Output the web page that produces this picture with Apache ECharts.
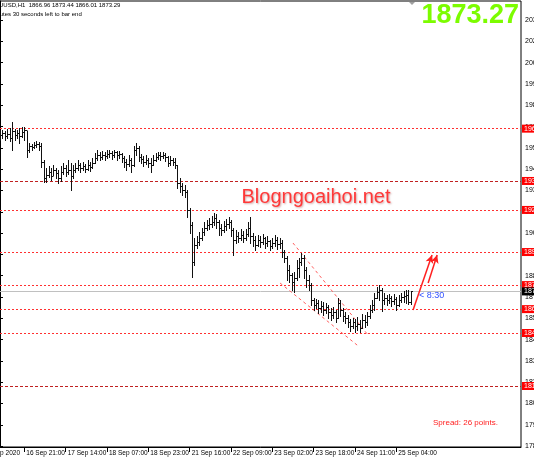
<!DOCTYPE html>
<html><head><meta charset="utf-8">
<script src="https://cdn.jsdelivr.net/npm/echarts@6/dist/echarts.min.js"></script>
<style>html,body{margin:0;padding:0;background:#fff}#c{width:534px;height:462px}</style>
</head><body><div id="c"></div>
<script>
// ---- data ----
const tickIdx = [10,27,44,61,78,95,112,129,146,163];
const tickLabels = ['16 Sep 21:00','17 Sep 14:00','18 Sep 07:00','18 Sep 23:00','21 Sep 16:00','22 Sep 09:00','23 Sep 02:00','23 Sep 18:00','24 Sep 11:00','25 Sep 04:00'];
const priceTicks = [1782.5,1795,1807.5,1820,1832.5,1845,1857.5,1870,1882.5,1895,1907.5,1920,1932.5,1945,1957.5,1970,1982.5,1995,2007.5,2020,2032.5];
const closes = [1965.1,1966.2,1964.5,1965.7,1963.3,1967.4,1965.1,1966.2,1964.5,1966.8,
1968.0,1956.3,1958.6,1958.0,1959.2,1959.8,1958.6,1949.2,1939.8,1941.6,
1943.4,1941.0,1944.5,1942.8,1939.8,1943.4,1945.7,1943.4,1944.5,1941.0,
1944.5,1945.7,1947.5,1945.7,1946.9,1945.1,1947.5,1946.3,1948.6,1951.6,
1953.3,1952.2,1953.3,1952.7,1953.9,1954.5,1953.3,1955.1,1953.3,1953.9,
1951.6,1949.2,1948.0,1950.4,1947.5,1956.3,1957.4,1952.2,1951.0,1949.2,
1950.4,1948.6,1947.5,1950.4,1952.2,1953.3,1952.7,1953.3,1952.2,1948.6,
1950.4,1949.2,1947.5,1936.9,1935.1,1932.8,1931.6,1921.1,1912.2,1890.5,
1900.5,1902.3,1904.6,1908.1,1910.5,1912.2,1912.8,1914.0,1916.4,1914.0,
1910.5,1909.3,1911.7,1912.8,1914.0,1909.3,1903.4,1905.8,1904.6,1906.4,
1904.6,1906.9,1910.5,1905.8,1903.4,1900.5,1903.4,1902.3,1904.6,1901.7,
1902.9,1899.9,1901.7,1903.4,1901.1,1901.7,1896.4,1892.9,1885.8,1882.9,
1878.8,1881.1,1887.0,1890.5,1892.9,1885.8,1880.0,1877.0,1868.2,1865.3,
1866.5,1863.5,1864.7,1862.4,1864.1,1861.2,1859.4,1861.2,1857.6,1866.5,
1862.4,1858.8,1857.6,1855.3,1853.0,1855.3,1853.0,1854.1,1851.8,1856.5,
1855.3,1858.8,1862.4,1865.3,1869.4,1872.9,1874.1,1868.2,1869.4,1868.2,
1869.4,1867.6,1868.8,1865.3,1868.2,1870.0,1870.6,1871.2,1866.96,1873.29];
const opens = [1966.8,1965.1,1966.2,1964.5,1965.7,1963.3,1967.4,1965.1,1966.2,1964.5,
1966.8,1968.0,1956.3,1958.6,1958.0,1959.2,1959.8,1958.6,1949.2,1939.8,
1941.6,1943.4,1941.0,1944.5,1942.8,1939.8,1943.4,1945.7,1943.4,1944.5,
1941.0,1944.5,1945.7,1947.5,1945.7,1946.9,1945.1,1947.5,1946.3,1948.6,
1951.6,1953.3,1952.2,1953.3,1952.7,1953.9,1954.5,1953.3,1955.1,1953.3,
1953.9,1951.6,1949.2,1948.0,1950.4,1947.5,1956.3,1957.4,1952.2,1951.0,
1949.2,1950.4,1948.6,1947.5,1950.4,1952.2,1953.3,1952.7,1953.3,1952.2,
1948.6,1950.4,1949.2,1947.5,1936.9,1935.1,1932.8,1931.6,1921.1,1912.2,
1890.5,1900.5,1902.3,1904.6,1908.1,1910.5,1912.2,1912.8,1914.0,1916.4,
1914.0,1910.5,1909.3,1911.7,1912.8,1914.0,1909.3,1903.4,1905.8,1904.6,
1906.4,1904.6,1906.9,1910.5,1905.8,1903.4,1900.5,1903.4,1902.3,1904.6,
1901.7,1902.9,1899.9,1901.7,1903.4,1901.1,1901.7,1896.4,1892.9,1885.8,
1882.9,1878.8,1881.1,1887.0,1890.5,1892.9,1885.8,1880.0,1877.0,1868.2,
1865.3,1866.5,1863.5,1864.7,1862.4,1864.1,1861.2,1859.4,1861.2,1857.6,
1866.5,1862.4,1858.8,1857.6,1855.3,1853.0,1855.3,1853.0,1854.1,1851.8,
1856.5,1855.3,1858.8,1862.4,1865.3,1869.4,1872.9,1874.1,1868.2,1869.4,
1868.2,1869.4,1867.6,1868.8,1865.3,1868.2,1870.0,1870.6,1871.2,1866.96];
const highs = [1968.0,1968.0,1967.4,1968.6,1969.2,1972.7,1968.6,1968.0,1969.2,1969.8,
1969.8,1967.4,1960.4,1959.8,1960.9,1961.5,1960.9,1960.4,1950.4,1945.7,
1946.9,1945.7,1947.5,1945.7,1944.5,1946.9,1948.6,1947.5,1950.4,1948.6,
1947.5,1948.6,1950.4,1948.6,1949.2,1948.0,1950.4,1949.2,1951.6,1954.5,
1956.3,1955.1,1955.7,1955.1,1956.3,1956.3,1955.7,1956.3,1955.7,1955.7,
1954.5,1952.7,1951.0,1953.3,1951.6,1958.6,1960.4,1958.6,1953.9,1952.7,
1953.3,1951.6,1951.6,1953.3,1954.5,1955.1,1955.1,1955.1,1954.5,1952.7,
1952.7,1951.6,1951.6,1947.5,1939.8,1936.9,1935.7,1932.8,1922.2,1914.0,
1904.6,1905.8,1908.1,1910.5,1914.0,1915.2,1916.4,1917.5,1919.3,1918.7,
1915.2,1912.8,1914.6,1915.8,1917.0,1915.2,1910.5,1909.3,1908.1,1909.9,
1908.7,1909.9,1914.0,1917.0,1907.5,1905.8,1906.4,1905.8,1906.9,1905.2,
1905.8,1903.4,1904.6,1906.4,1905.2,1904.6,1903.4,1897.6,1894.1,1888.8,
1884.1,1884.7,1891.7,1892.9,1895.8,1894.6,1887.6,1882.9,1878.2,1869.4,
1868.8,1868.2,1867.6,1867.1,1866.5,1865.3,1863.5,1864.1,1862.4,1869.4,
1868.2,1863.5,1861.2,1859.4,1857.1,1857.6,1857.1,1858.2,1856.5,1860.0,
1859.4,1861.2,1865.3,1868.2,1872.3,1875.9,1877.0,1875.3,1872.3,1871.2,
1871.8,1870.6,1871.8,1870.0,1871.2,1872.3,1873.5,1874.1,1874.1,1873.44];
const lows = [1962.1,1963.3,1962.1,1963.3,1961.5,1956.3,1962.1,1963.3,1960.4,1963.9,
1962.1,1952.2,1955.1,1956.3,1957.4,1958.0,1956.3,1946.3,1937.5,1937.5,
1940.4,1938.7,1941.6,1939.8,1936.9,1938.1,1942.2,1941.0,1942.2,1932.8,
1939.8,1943.4,1944.5,1943.4,1944.5,1943.4,1944.5,1943.9,1945.7,1948.6,
1950.4,1950.4,1951.0,1950.4,1951.6,1952.2,1951.0,1952.2,1950.4,1951.6,
1949.2,1946.3,1944.5,1946.9,1943.4,1946.9,1953.3,1949.8,1948.6,1946.9,
1948.0,1946.3,1943.4,1947.5,1949.8,1951.0,1950.4,1951.6,1949.8,1946.9,
1947.5,1947.5,1945.7,1934.0,1931.6,1929.9,1928.7,1917.0,1907.5,1881.7,
1888.8,1898.7,1900.5,1903.4,1906.4,1909.3,1909.9,1911.1,1912.2,1910.5,
1906.4,1906.4,1908.1,1909.3,1910.5,1905.8,1894.6,1901.7,1902.3,1903.4,
1902.3,1903.4,1905.8,1901.7,1899.9,1897.6,1899.9,1899.3,1901.1,1898.7,
1899.9,1897.6,1898.7,1899.9,1898.2,1898.7,1893.5,1890.5,1880.0,1878.8,
1874.1,1872.9,1880.0,1881.7,1888.8,1881.1,1875.9,1874.1,1865.3,1862.4,
1863.5,1860.6,1861.2,1859.4,1860.6,1857.6,1856.5,1857.6,1855.3,1857.6,
1858.8,1855.9,1854.7,1852.4,1850.0,1851.8,1849.5,1850.6,1849.5,1851.8,
1852.4,1853.6,1857.6,1861.2,1862.4,1869.4,1868.2,1861.8,1865.9,1865.3,
1866.5,1864.7,1865.9,1862.4,1864.7,1867.1,1867.1,1866.5,1865.9,1866.01];
const levels = [1968.8,1938.1,1921.1,1896.4,1877.0,1862.9,1848.9,1817.8];
const levelDark = [false,true,false,false,false,false,false,true];
const bidPrice = 1873.29;
const channelUpper = [[120.5,1901.7],[151.4,1847.7]];
const channelLower = [[115.2,1878.2],[146.9,1841.8]];
const arrow1 = [[169.9,1862.4],[177.7,1894.6]];
const arrow2 = [[176.1,1878.2],[179.8,1894.6]];

// ---- build ----
const bars = closes.map((c,i)=>[i, opens[i], highs[i], lows[i], c]);
const chart = echarts.init(document.getElementById('c'), null, {renderer:'canvas'});
const FONT = 'Liberation Sans';
const lvlLines = levels.map((v,i)=>({
  yAxis: v,
  lineStyle:{color: levelDark[i] ? '#c02020' : '#ff3030', type: levelDark[i]?[3,2]:[2,2], width:1},
  label:{show:true, position:'end', distance:1, formatter: v.toFixed(2), color:'#fff', backgroundColor:'#ff0000', padding:[1,2,0,2], fontSize:7, fontFamily:FONT}
}));
lvlLines.push({
  yAxis: bidPrice,
  lineStyle:{color:'#c0c0c0', type:'solid', width:1},
  label:{show:true, position:'end', distance:1, formatter: bidPrice.toFixed(2), color:'#fff', backgroundColor:'#000', padding:[1,2,0,2], fontSize:7, fontFamily:FONT}
});
const seg = (pts, color, type, arrow, w) => [
  {coord: pts[0], symbol:'none', lineStyle:{color, type, width:w}},
  {coord: pts[1], symbol: arrow ? 'arrow' : 'none', symbolSize: arrow ? [6,8] : 0}
];
chart.setOption({
  animation:false,
  backgroundColor:'#fff',
  grid:{left:0, right:13, top:1, bottom:15, show:true, borderColor:'#000', borderWidth:1, containLabel:false, outerBoundsMode:'none'},
  xAxis:{type:'value', min:0, max:214.3, position:'bottom',
    axisLine:{show:true, lineStyle:{color:'#000'}},
    axisTick:{show:true, customValues: tickIdx, length:5, inside:false, lineStyle:{color:'#000'}},
    axisLabel:{show:true, customValues: tickIdx, align:'left', margin:3, padding:[0,0,0,2], fontSize:6.5, fontFamily:FONT, color:'#000',
      hideOverlap:false, showMinLabel:true, showMaxLabel:true,
      formatter:(v)=>{const k=tickIdx.indexOf(Math.round(v)); return k>=0 ? tickLabels[k] : '';}},
    splitLine:{show:false}},
  yAxis:{type:'value', min:1782.0, max:2043.7, position:'right', scale:true,
    axisLine:{show:true, lineStyle:{color:'#000'}},
    axisTick:{show:true, customValues: priceTicks, length:3, lineStyle:{color:'#000'}},
    axisLabel:{show:true, customValues: priceTicks, margin:4, fontSize:7, fontFamily:FONT, color:'#000',
      hideOverlap:false, showMinLabel:true, showMaxLabel:true,
      formatter:(v)=>v.toFixed(2)},
    splitLine:{show:false}},
  series:[
    {type:'custom', data: bars, encode:{x:0, y:[1,2,3,4]}, clip:true,
     renderItem:(params, api)=>{
       const i = api.value(0);
       const po = api.coord([i, api.value(1)]);
       const ph = api.coord([i, api.value(2)]);
       const pl = api.coord([i, api.value(3)]);
       const pc = api.coord([i, api.value(4)]);
       const x = Math.round(po[0]) + 0.5;
       const st = {stroke:'#111', lineWidth:1};
       return {type:'group', children:[
         {type:'line', shape:{x1:x, y1:Math.round(ph[1]), x2:x, y2:Math.round(pl[1])+1}, style:st},
         {type:'line', shape:{x1:x-1.5, y1:Math.round(po[1])+0.5, x2:x, y2:Math.round(po[1])+0.5}, style:st},
         {type:'line', shape:{x1:x, y1:Math.round(pc[1])+0.5, x2:x+1.5, y2:Math.round(pc[1])+0.5}, style:st}
       ]};
     },
     z:5},
    {type:'line', data:[], symbol:'none', z:3,
     markLine:{silent:true, symbol:['none','none'], animation:false, data: lvlLines}},
    {type:'line', data:[], symbol:'none', z:4,
     markLine:{silent:true, animation:false, label:{show:false},
       data:[seg(channelUpper,'#ff6060',[3,3],false,1), seg(channelLower,'#ff6060',[3,3],false,1),
             seg(arrow1,'#ff2020','solid',true,1.5), seg(arrow2,'#ff2020','solid',true,1.5)]}}
  ],
  graphic:[
    {type:'text', left:-9, top:2, style:{text:'XAUUSD,H1  1866.96 1873.44 1866.01 1873.29', fontSize:6, fontFamily:FONT, fill:'#000'}},
    {type:'text', left:-15, top:11, style:{text:'8 minutes 30 seconds left to bar end', fontSize:6, fontFamily:FONT, fill:'#000'}},
    {type:'text', x:519, y:16, style:{text:'1873.27', fontSize:27, fontWeight:'bold', fontFamily:FONT, fill:'#7cfc00', align:'right', verticalAlign:'middle'}},
    {type:'polygon', shape:{points:[[409,2],[415,2],[412,5]]}, style:{fill:'#a0a0a0'}},
    {type:'text', x:316, y:197, style:{text:'Blogngoaihoi.net', fontSize:20, fontFamily:FONT, fill:'#ff3838', align:'center', verticalAlign:'middle', textShadowColor:'rgba(120,0,0,0.35)', textShadowBlur:2, textShadowOffsetX:1, textShadowOffsetY:1}},
    {type:'text', x:433, y:423, style:{text:'Spread: 26 points.', fontSize:8, fontFamily:FONT, fill:'#ff2020', verticalAlign:'middle'}},
    {type:'text', x:419, y:296, style:{text:'< 8:30', fontSize:9, fontFamily:FONT, fill:'#3050ff', verticalAlign:'middle'}},
    {type:'text', x:20, y:453, style:{text:'16 Sep 2020', fontSize:6.5, fontFamily:FONT, fill:'#000', align:'right', verticalAlign:'middle'}}
  ]
});
</script></body></html>
